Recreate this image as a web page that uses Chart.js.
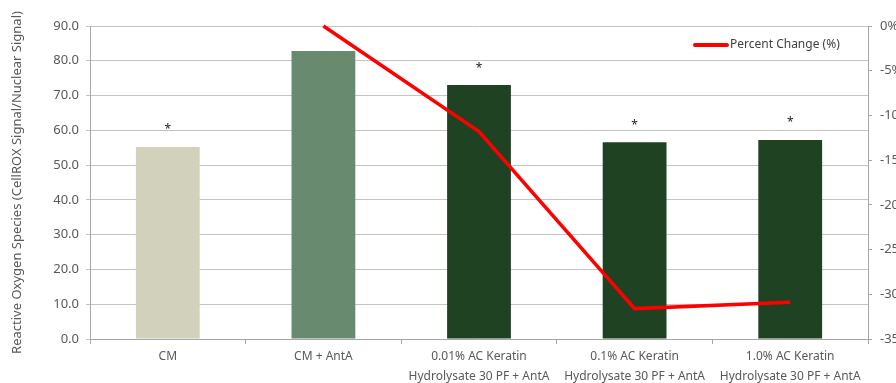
<!DOCTYPE html>
<html>
<head>
<meta charset="utf-8">
<script src="https://cdn.jsdelivr.net/npm/chart.js@4/dist/chart.umd.min.js"></script>
<style>
  html, body { margin: 0; padding: 0; background: #fff; overflow: hidden; }
  #wrap { width: 896px; height: 383px; overflow: hidden; }
  canvas { display: block; }
</style>
</head>
<body>
<div id="wrap"><canvas id="c" width="920" height="383"></canvas></div>
<script>
// Treatment groups
const categories = [
  ['CM'],
  ['CM + AntA'],
  ['0.01% AC Keratin', 'Hydrolysate 30 PF + AntA'],
  ['0.1% AC Keratin', 'Hydrolysate 30 PF + AntA'],
  ['1.0% AC Keratin', 'Hydrolysate 30 PF + AntA']
];
// ROS signal (CellROX / nuclear)
const rosValues = [55.2, 82.8, 73.0, 56.6, 57.2];
// Percent change relative to CM + AntA
const percentChange = [null, 0, -11.8, -31.6, -30.9];
// Groups marked with an asterisk
const significant = [true, false, true, true, true];
const barColors = ['#d2d1bc', '#688b6f', '#1e4222', '#1e4222', '#1e4222'];

const FONT = '"Noto Sans", "Liberation Sans", sans-serif';
const TXT = '#595959';

const starPlugin = {
  id: 'stars',
  afterDatasetsDraw(chart) {
    const meta = chart.getDatasetMeta(0);
    const ctx = chart.ctx;
    ctx.save();
    ctx.fillStyle = '#222';
    ctx.font = '12px ' + FONT;
    ctx.textAlign = 'center';
    ctx.textBaseline = 'middle';
    meta.data.forEach((bar, i) => {
      if (significant[i]) ctx.fillText('*', bar.x, bar.y - 17);
    });
    ctx.restore();
  }
};

const legendPlugin = {
  id: 'lineLegend',
  afterDraw(chart) {
    const ctx = chart.ctx;
    const ds = chart.data.datasets[1];
    const x0 = 695, y0 = 45;
    ctx.save();
    ctx.strokeStyle = ds.borderColor;
    ctx.lineWidth = 4;
    ctx.lineCap = 'round';
    ctx.beginPath();
    ctx.moveTo(x0, y0);
    ctx.lineTo(x0 + 32, y0);
    ctx.stroke();
    ctx.fillStyle = '#404040';
    ctx.font = '12px ' + FONT;
    ctx.textAlign = 'left';
    ctx.textBaseline = 'middle';
    ctx.fillText(ds.label, x0 + 35, y0);
    ctx.restore();
  }
};

new Chart(document.getElementById('c'), {
  data: {
    labels: categories,
    datasets: [
      {
        type: 'bar',
        label: 'Reactive Oxygen Species',
        data: rosValues,
        backgroundColor: barColors,
        borderWidth: 0,
        barPercentage: 0.41,
        categoryPercentage: 1.0,
        yAxisID: 'y',
        order: 2
      },
      {
        type: 'line',
        label: 'Percent Change (%)',
        data: percentChange,
        borderColor: '#ff0000',
        borderWidth: 3.5,
        pointRadius: 0,
        pointHoverRadius: 0,
        fill: false,
        tension: 0,
        yAxisID: 'y2',
        clip: false,
        order: 1
      }
    ]
  },
  options: {
    responsive: false,
    animation: false,
    events: [],
    layout: { padding: { top: 26, left: 0, right: 0, bottom: 0 } },
    plugins: { legend: { display: false }, tooltip: { enabled: false } },
    scales: {
      x: {
        offset: true,
        grid: {
          offset: true,
          drawOnChartArea: false,
          drawTicks: true,
          tickLength: 5,
          color: '#a6a6a6'
        },
        border: { color: '#a6a6a6', width: 1 },
        ticks: {
          color: TXT,
          font: { family: FONT, size: 12, lineHeight: 1.65 },
          padding: 3,
          maxRotation: 0,
          autoSkip: false
        },
        afterFit(s) { s.height = 44; }
      },
      y: {
        position: 'left',
        min: 0,
        max: 90,
        ticks: {
          stepSize: 10,
          color: TXT,
          font: { family: FONT, size: 13 },
          padding: 7,
          callback: v => v.toFixed(1)
        },
        grid: { color: '#c4c4c4', tickLength: 4, drawTicks: true },
        border: { color: '#a6a6a6', width: 1 },
        title: {
          display: true,
          text: 'Reactive Oxygen Species (CellROX Signal/Nuclear Signal)',
          color: TXT,
          font: { family: FONT, size: 13 },
          padding: { top: 9, bottom: 0 }
        },
        afterFit(s) { s.width = 90; }
      },
      y2: {
        position: 'right',
        min: -35,
        max: 0,
        ticks: {
          stepSize: 5,
          color: TXT,
          font: { family: FONT, size: 13 },
          padding: 8,
          callback: v => v + '%'
        },
        grid: { drawOnChartArea: false, tickLength: 4, color: '#a6a6a6' },
        border: { color: '#a6a6a6', width: 1 },
        afterFit(s) { s.width = 52; }
      }
    }
  },
  plugins: [starPlugin, legendPlugin]
});
</script>
</body>
</html>
